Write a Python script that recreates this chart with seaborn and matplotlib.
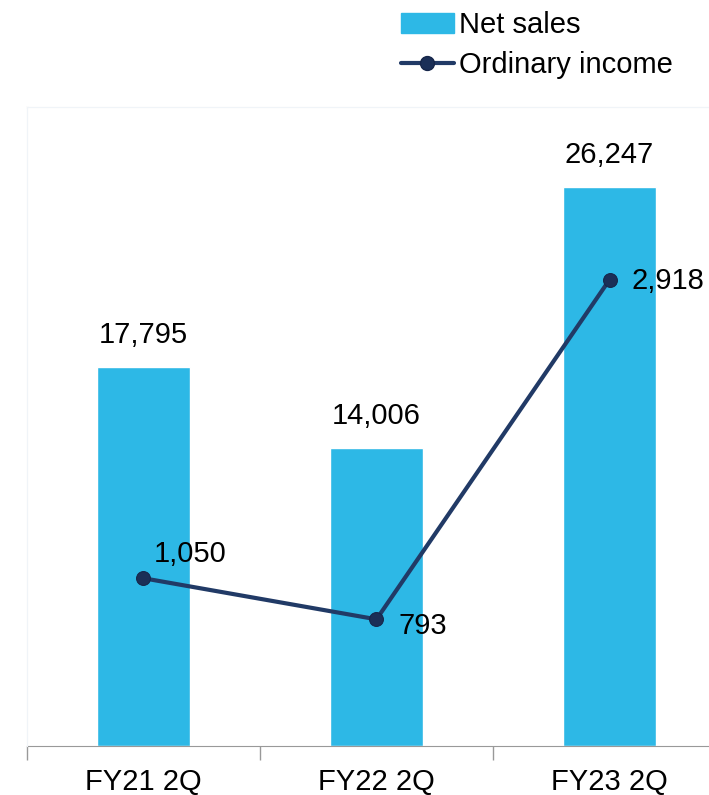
import matplotlib
matplotlib.use("Agg")
import pandas as pd
import seaborn as sns
import matplotlib.pyplot as plt
from matplotlib.lines import Line2D
from matplotlib.patches import Patch

# data
periods = ["FY21 2Q", "FY22 2Q", "FY23 2Q"]
net_sales = [17795, 14006, 26247]
ordinary_income = [1050, 793, 2918]

df = pd.DataFrame({"period": periods, "net_sales": net_sales,
                   "ordinary_income": ordinary_income})
df["pos"] = range(len(df))

sns.set_style("white")
plt.rcParams["font.family"] = ["Liberation Sans", "DejaVu Sans"]
plt.rcParams["text.color"] = "black"
plt.rcParams["xtick.color"] = "black"

bar_color = "#2DB8E6"
line_color = "#213A66"

fig = plt.figure(figsize=(7.09, 7.95), dpi=100)
ax = fig.add_axes([0.038, 0.0616, 0.986, 0.804])

sns.barplot(data=df, x="period", y="net_sales", color=bar_color,
            width=0.4, saturation=1, ax=ax)
ax.set_ylim(0, 30000)
ax.set_xlim(-0.5, 2.5)

for i, v in enumerate(net_sales):
    ax.annotate(f"{v:,}", (i, v), xytext=(0, 13), textcoords="offset points",
                ha="center", va="bottom", fontsize=21, color="black")

ax2 = ax.twinx()
sns.lineplot(data=df, x="pos", y="ordinary_income", color=line_color,
             linewidth=3, marker="o", markersize=10,
             markerfacecolor="#1B2F57", markeredgecolor="#16264A", ax=ax2)
ax2.set_ylim(0, 4000)
ax2.set_xlim(-0.5, 2.5)

offsets = [(7.5, 7.5), (15.5, -4.5), (16, -1)]
for i, v in enumerate(ordinary_income):
    va = "bottom" if i == 0 else "center"
    ax2.annotate(f"{v:,}", (i, v), xytext=offsets[i], textcoords="offset points",
                 ha="left", va=va, fontsize=21, color="black")

# axes styling
for a in (ax, ax2):
    a.set_xlabel("")
    a.set_ylabel("")
    a.set_yticks([])
    for s in ("top", "left", "right"):
        a.spines[s].set_color("#F0F4F8")
    a.spines["bottom"].set_color("#999999")
ax2.spines["bottom"].set_visible(False)

ax.set_xticks([-0.5, 0.5, 1.5, 2.5], minor=False)
ax.set_xticklabels([])
ax.tick_params(axis="x", which="major", bottom=True, direction="out",
               length=10, color="#999999", width=1)
ax.set_xticks(range(len(periods)), minor=True)
ax.set_xticklabels(periods, minor=True, fontsize=21, color="black")
ax.tick_params(axis="x", which="minor", bottom=True, length=0, pad=16)

handles = [Patch(color=bar_color),
           Line2D([0], [0], color=line_color, linewidth=3, marker="o",
                  markersize=10, markerfacecolor="#1B2F57",
                  markeredgecolor="#16264A")]
fig.legend(handles, ["Net sales", "Ordinary income"], loc="upper left",
           bbox_to_anchor=(0.541, 1.008), frameon=False, fontsize=21,
           handlelength=1.8, handletextpad=0.2, labelspacing=0.42,
           borderaxespad=0.2)

fig.savefig("out.png", dpi=100)
